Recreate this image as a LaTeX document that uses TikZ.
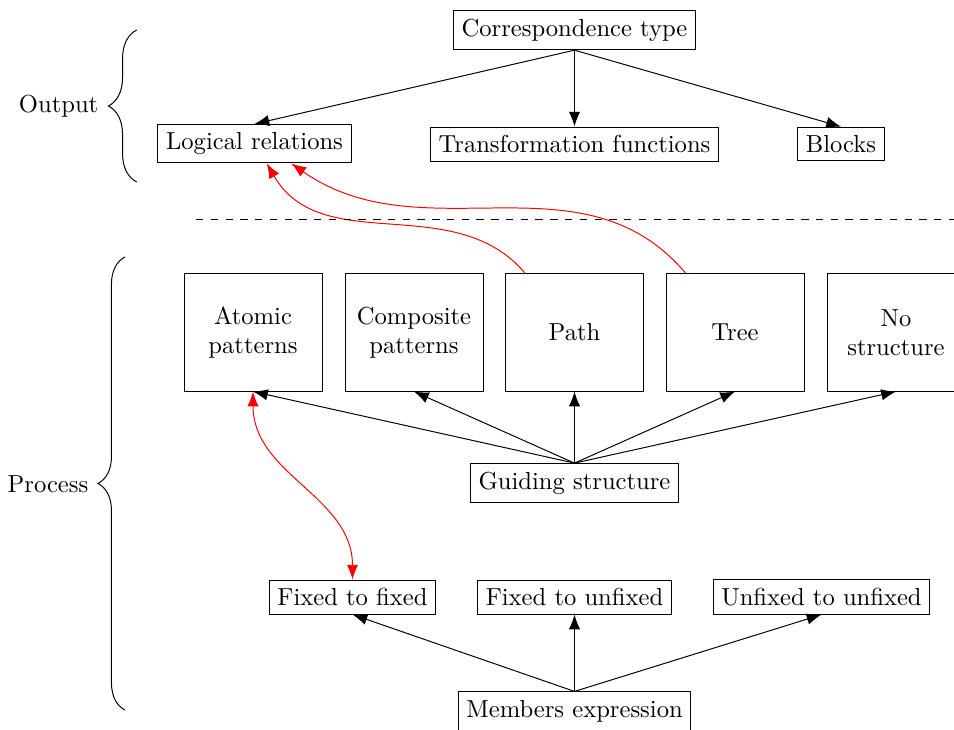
\documentclass[tikz,border=0pt]{standalone}
\usetikzlibrary{arrows.meta,decorations.pathreplacing}
\begin{document}
\begin{tikzpicture}[x=0.4065pt,y=-0.4065pt,
  box/.style={draw,inner sep=3.33pt},
  bigbox/.style={draw,align=center,minimum width=56.1pt,minimum height=47.6pt},
  tipshape/.style={Latex[length=6pt,width=4.6pt]},
  arr/.style={-{Latex[length=6pt,width=4.6pt]}},
  redarr/.style={red,-{Latex[length=6pt,width=4.6pt]}},
  bracedeco/.style={decorate,decoration={brace,amplitude=#1}},
]
\useasboundingbox (0,0) rectangle (954,729);
\clip (0,0) rectangle (954,729);

% nodes
\node[box] (corr) at (574.5,30.3) {Correspondence type};
\node[box] (logic) at (254.5,143.7) {Logical relations};
\node[box] (trans) at (574.5,144) {Transformation functions};
\node[box] (blocks) at (841,144) {Blocks};
\node[bigbox] (atomic) at (253,332.5) {Atomic\\patterns};
\node[bigbox] (comp) at (414,332.5) {Composite\\patterns};
\node[bigbox] (pathn) at (574.5,332.5) {Path};
\node[bigbox] (tree) at (735,332.5) {Tree};
\node[bigbox] (nostr) at (896,332.5) {No\\structure};
\node[box] (guide) at (574.5,483) {Guiding structure};
\node[box] (ff) at (352.5,597) {Fixed to fixed};
\node[box] (fu) at (574.5,597) {Fixed to unfixed};
\node[box] (uu) at (821.5,597) {Unfixed to unfixed};
\node[box] (members) at (574.5,711) {Members expression};

% black connectors
\draw[arr] (corr.south) -- (logic.north);
\draw[arr] (corr.south) -- (trans.north);
\draw[arr] (corr.south) -- (blocks.north);
\foreach \t in {atomic,comp,pathn,tree,nostr}
  \draw[arr] (guide.north) -- (\t.south);
\foreach \t in {ff,fu,uu}
  \draw[arr] (members.north) -- (\t.south);

% red connectors
\draw[redarr] ([xshift=-20pt]pathn.north) to[out=130,in=-60] ([xshift=5pt]logic.south);
\draw[redarr] ([xshift=-20pt]tree.north) to[out=130,in=-35] ([xshift=15pt]logic.south);
\draw[red,{Latex[length=6pt,width=4.6pt]}-{Latex[length=6pt,width=4.6pt]}] (atomic.south) to[out=-90,in=90] (ff.north);

% dashed separator
\coordinate (dashL) at (196,219);
\coordinate (dashR) at (960,219);
\draw[dashed] (dashL) -- (dashR);

% braces and labels
\draw[bracedeco=11.5pt] (136.7,182) -- (136.7,30);
\node[anchor=east] (outlab) at (107,106) {Output};
\draw[bracedeco=11pt] (125,710) -- (125,257);
\node[anchor=east] (proclab) at (97,484) {Process};
\end{tikzpicture}
\end{document}
